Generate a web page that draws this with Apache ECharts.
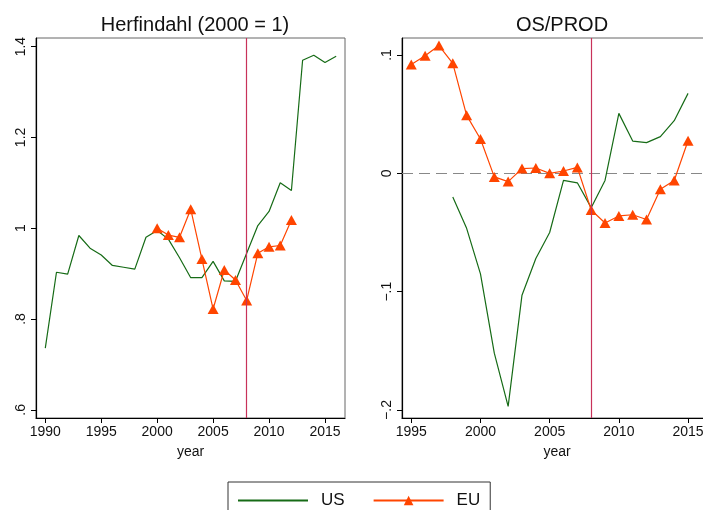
<!DOCTYPE html>
<html>
<head>
<meta charset="utf-8">
<script src="https://cdn.jsdelivr.net/npm/echarts@6/dist/echarts.min.js"></script>
<style>
html,body{margin:0;padding:0;background:#fff;}
#c{width:703px;height:510px;}
</style>
</head>
<body>
<div id="c"></div>
<script>
// ---- data ----
const usYearsL = [1990,1991,1992,1993,1994,1995,1996,1997,1998,1999,2000,2001,2002,2003,2004,2005,2006,2007,2008,2009,2010,2011,2012,2013,2014,2015,2016];
const usHerf = [0.736,0.903,0.899,0.984,0.956,0.941,0.918,0.914,0.910,0.980,0.995,0.976,0.935,0.891,0.891,0.927,0.884,0.883,0.945,1.006,1.037,1.100,1.083,1.370,1.381,1.365,1.379];
const euYearsL = [2000,2001,2002,2003,2004,2005,2006,2007,2008,2009,2010,2011,2012];
const euHerf = [1.000,0.985,0.980,1.042,0.932,0.822,0.908,0.886,0.841,0.945,0.959,0.962,1.018];

const usYearsR = [1998,1999,2000,2001,2002,2003,2004,2005,2006,2007,2008,2009,2010,2011,2012,2013,2014,2015];
const usOS = [-0.020,-0.0465,-0.085,-0.152,-0.197,-0.103,-0.072,-0.050,-0.006,-0.008,-0.029,-0.006,0.0507,0.0273,0.026,0.031,0.0445,0.0676];
const euYearsR = [1995,1996,1997,1998,1999,2000,2001,2002,2003,2004,2005,2006,2007,2008,2009,2010,2011,2012,2013,2014,2015];
const euOS = [0.092,0.0994,0.108,0.093,0.049,0.029,-0.003,-0.007,0.004,0.0045,0.000,0.002,0.005,-0.031,-0.042,-0.036,-0.035,-0.039,-0.0135,-0.006,0.0276];

const xTicksL = [1990,1995,2000,2005,2010,2015];
const xTicksR = [1995,2000,2005,2010,2015];
const yTicksL = [0.6,0.8,1,1.2,1.4];
const yLabelsL = ['.6','.8','1','1.2','1.4'];
const yTicksR = [-0.2,-0.1,0,0.1];
const yLabelsR = ['\u2212.2','\u2212.1','0','.1'];
const crisisYear = 2008;

const GREEN = '#166b16';
const ORANGE = '#ff4500';
const CRIMSON = '#c8325a';

function pairs(xs, ys){ return xs.map((x,i)=>[x, ys[i]]); }
function lab(ticks, labels){
  return function(v){
    let best = 0, d = Infinity;
    ticks.forEach((t,i)=>{ const dd = Math.abs(t - v); if (dd < d){ d = dd; best = i; } });
    return labels[best];
  };
}

const font = 'Liberation Sans, Arial, Helvetica, sans-serif';

function xAxis(idx, min, max, ticks){
  return {
    type:'value', gridIndex: idx, min:min, max:max,
    name:'year', nameLocation:'middle', nameGap:27,
    nameTextStyle:{color:'#111', fontSize:14, fontFamily:font},
    axisLine:{show:true, onZero:false, lineStyle:{color:'#000', width:1.2}},
    axisTick:{show:true, length:5, customValues: ticks, lineStyle:{color:'#000'}},
    axisLabel:{customValues: ticks, color:'#111', fontSize:14, fontFamily:font, margin:7, formatter: v => String(Math.round(v))},
    splitLine:{show:false}
  };
}
function yAxis(idx, min, max, ticks, labels){
  return {
    type:'value', gridIndex: idx, min:min, max:max,
    axisLine:{show:true, onZero:false, lineStyle:{color:'#000', width:1.2}},
    axisTick:{show:true, length:5, customValues: ticks, lineStyle:{color:'#000'}},
    axisLabel:{customValues: ticks, rotate:90, color:'#111', fontSize:14, fontFamily:font, margin:8, formatter: lab(ticks, labels)},
    splitLine:{show:false}
  };
}

function crisisMark(){
  return {silent:true, symbol:'none', label:{show:false},
    lineStyle:{color:CRIMSON, width:1.2, type:'solid', opacity:1},
    emphasis:{disabled:true},
    data:[{xAxis:crisisYear, lineStyle:{color:CRIMSON, width:1.2, type:'solid', opacity:1}}], z:10};
}
function zeroMark(){ return {silent:true, symbol:'none', label:{show:false}, lineStyle:{color:'#888', width:1, type:[11,6]}, data:[{yAxis:0}], z:1}; }

const chart = echarts.init(document.getElementById('c'), null, {renderer:'canvas'});
chart.setOption({
  backgroundColor:'#fff',
  animation:false,
  title:[
    {text:'Herfindahl (2000 = 1)', left:190, top:10, textAlign:'center', textStyle:{fontSize:20, fontWeight:'normal', color:'#111', fontFamily:font}},
    {text:'OS/PROD', left:557, top:10, textAlign:'center', textStyle:{fontSize:20, fontWeight:'normal', color:'#111', fontFamily:font}}
  ],
  grid:[
    {left:36, top:38, width:309, height:380, show:true, borderColor:'#666', borderWidth:1, backgroundColor:'#fff', outerBoundsMode:'none', containLabel:false},
    {left:402, top:38, width:310, height:380, show:true, borderColor:'#666', borderWidth:1, backgroundColor:'#fff', outerBoundsMode:'none', containLabel:false}
  ],
  xAxis:[
    xAxis(0, 1989.17, 2016.79, xTicksL),
    xAxis(1, 1994.33, 2016.73, xTicksR)
  ],
  yAxis:[
    yAxis(0, 0.582, 1.419, yTicksL, yLabelsL),
    yAxis(1, -0.2068, 0.1144, yTicksR, yLabelsR)
  ],
  legend:{
    data:[{name:'US', itemStyle:{opacity:0}}, {name:'EU'}],
    left:228, top:482,
    padding:[10,10,20,9],
    itemWidth:70, itemHeight:12, itemGap:28,
    borderColor:'#333', borderWidth:1,
    textStyle:{fontSize:17, color:'#111', fontFamily:font, padding:[0,0,0,8]},
    selectedMode:false
  },
  series:[
    {name:'US', type:'line', xAxisIndex:0, yAxisIndex:0, data:pairs(usYearsL, usHerf), symbol:'none', lineStyle:{color:GREEN, width:1.2}, itemStyle:{color:GREEN}, z:3,
     markLine:crisisMark()},
    {name:'EU', type:'line', xAxisIndex:0, yAxisIndex:0, data:pairs(euYearsL, euHerf), symbol:'triangle', symbolSize:[11,10], showAllSymbol:true, lineStyle:{color:ORANGE, width:1.2}, itemStyle:{color:ORANGE}, z:4},
    {name:'US', type:'line', xAxisIndex:1, yAxisIndex:1, data:pairs(usYearsR, usOS), symbol:'none', lineStyle:{color:GREEN, width:1.2}, itemStyle:{color:GREEN}, z:3,
     markLine:crisisMark()},
    {name:'EU', type:'line', xAxisIndex:1, yAxisIndex:1, data:pairs(euYearsR, euOS), symbol:'triangle', symbolSize:[11,10], showAllSymbol:true, lineStyle:{color:ORANGE, width:1.2}, itemStyle:{color:ORANGE}, z:4,
     markLine:zeroMark()}
  ]
});
</script>
</body>
</html>
